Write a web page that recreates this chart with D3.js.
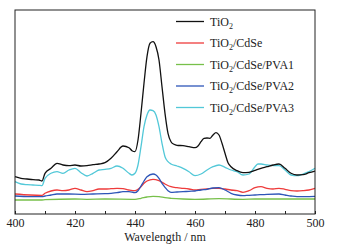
<!DOCTYPE html>
<html>
<head>
<meta charset="utf-8">
<script src="https://cdn.jsdelivr.net/npm/d3@7"></script>
<style>
  body { margin: 0; background: #fff; }
  svg text { font-family: "Liberation Serif", "Times New Roman", serif; }
</style>
</head>
<body>
<div id="wrapper"></div>
<script>
// wavelength (nm) / intensity (a.u.) pairs
const tio2 = [[400,37.3],[402,35.7],[404,35.0],[406,34.3],[408,34.0],[409,33.0],[410,40.7],[412,45.7],[414,50.7],[416,49.0],[418,48.3],[420,49.0],[422,48.0],[424,48.3],[426,49.3],[428,50.0],[430,51.3],[432,55.7],[434,62.3],[436,68.0],[438,66.3],[439,63.3],[440,62.3],[441,74.0],[442,100.7],[443,130.7],[444,157.3],[445,170.7],[446,172.3],[447,167.3],[448,154.0],[449,127.3],[450,100.7],[451,80.7],[452,72.3],[453,69.7],[454,68.7],[456,68.3],[458,67.3],[460,66.3],[461,68.0],[462,72.3],[463,75.7],[464,76.0],[465,75.7],[466,79.0],[467,81.3],[468,79.0],[469,70.7],[470,60.7],[471,51.3],[472,47.3],[474,43.3],[476,41.3],[478,41.7],[480,43.7],[482,45.7],[484,47.3],[486,49.0],[488,50.0],[490,45.7],[492,40.7],[494,39.0],[496,39.3],[498,41.3],[500,43.0]];
const tio2CdSe = [[400,20.0],[405,19.0],[409,18.7],[410,20.7],[412,23.0],[414,24.0],[416,23.3],[418,24.0],[420,25.7],[422,24.0],[424,22.3],[426,23.3],[428,25.0],[430,25.0],[432,25.3],[434,25.7],[436,25.3],[438,24.0],[440,23.3],[441,24.7],[442,27.3],[443,30.7],[444,33.0],[446,34.7],[448,33.3],[450,30.0],[452,27.3],[454,26.3],[456,25.7],[458,25.0],[460,24.0],[462,24.7],[464,25.0],[466,25.7],[468,25.7],[470,25.0],[472,24.0],[474,23.3],[476,21.7],[478,23.3],[480,26.3],[482,27.3],[484,25.7],[486,25.0],[488,25.7],[490,24.7],[492,23.3],[494,23.0],[496,23.3],[498,24.0],[500,25.7]];
const pva1 = [[400,14.0],[409,14.0],[410,14.3],[420,15.0],[424,14.7],[430,15.0],[440,14.7],[442,15.7],[444,17.0],[446,17.7],[448,17.3],[450,16.3],[452,15.7],[456,15.0],[460,14.7],[468,15.3],[476,14.7],[480,15.0],[490,15.0],[500,15.0]];
const pva2 = [[400,18.0],[405,17.3],[409,17.3],[410,18.0],[412,19.0],[414,20.0],[418,20.0],[422,19.7],[426,20.0],[430,20.3],[432,20.7],[434,21.3],[436,22.3],[438,22.3],[440,21.3],[441,23.3],[442,28.0],[443,33.0],[444,37.3],[446,40.0],[447,39.0],[448,35.7],[449,30.7],[450,26.7],[451,23.3],[452,21.7],[454,22.0],[456,22.3],[458,22.7],[460,23.0],[462,24.0],[464,24.7],[466,26.0],[468,26.3],[470,24.0],[472,20.7],[474,19.0],[476,18.3],[478,18.7],[480,19.0],[484,19.7],[488,20.0],[490,19.0],[492,18.0],[494,17.3],[500,17.7]];
const pva3 = [[400,32.3],[402,30.0],[404,29.3],[406,29.0],[408,28.7],[409,28.3],[410,35.7],[412,40.7],[414,42.3],[416,40.7],[418,44.0],[420,45.7],[422,41.3],[424,38.0],[426,40.7],[428,44.0],[430,44.7],[432,45.7],[434,48.0],[436,45.7],[438,40.7],[439,39.0],[440,40.7],[441,49.0],[442,67.3],[443,87.3],[444,99.0],[445,104.0],[446,103.3],[447,99.0],[448,87.3],[449,70.7],[450,57.3],[451,52.3],[452,50.0],[454,48.0],[456,45.7],[458,42.3],[460,38.3],[462,40.0],[464,44.0],[466,47.3],[468,49.0],[470,46.7],[472,44.0],[474,42.3],[476,39.0],[478,40.0],[480,47.3],[481,50.0],[482,50.0],[484,49.0],[486,48.3],[488,48.3],[490,44.0],[492,39.0],[494,38.3],[496,40.0],[498,42.3],[500,45.7]];

const seriesNames = ["TiO2", "TiO2/CdSe", "TiO2/CdSe/PVA1", "TiO2/CdSe/PVA2", "TiO2/CdSe/PVA3"];
const seriesData = [tio2, tio2CdSe, pva1, pva2, pva3];
const seriesColors = ["#111111", "#ee3b3b", "#77c04a", "#2d55b8", "#52c8d8"];

const majorTicks = [400, 420, 440, 460, 480, 500];
const minorTicks = [410, 430, 450, 470, 490];

const width = 342;
const height = 246;
const margin = { top: 10, right: 27, bottom: 32, left: 15 };
const serif = "'Liberation Serif', 'Times New Roman', serif";

const svg = d3.select("#wrapper").append("svg")
  .attr("width", width)
  .attr("height", height)
  .attr("font-family", serif);

const x = d3.scaleLinear()
  .domain([400, 500])
  .range([margin.left, width - margin.right]);
const y = d3.scaleLinear()
  .domain([0, 204])
  .range([height - margin.bottom, margin.top]);

const line = d3.line()
  .x(d => x(d[0]))
  .y(d => y(d[1]))
  .curve(d3.curveMonotoneX);

// drawing order: bottom lines first so black sits on top
const order = [2, 1, 3, 4, 0];
svg.append("g")
  .selectAll("path")
  .data(order)
  .join("path")
    .attr("fill", "none")
    .attr("stroke", i => seriesColors[i])
    .attr("stroke-width", 1.3)
    .attr("stroke-linejoin", "round")
    .attr("d", i => line(seriesData[i]));

// frame
svg.append("rect")
  .attr("x", x(400))
  .attr("y", y(204))
  .attr("width", x(500) - x(400))
  .attr("height", y(0) - y(204))
  .attr("fill", "none")
  .attr("stroke", "#222")
  .attr("stroke-width", 1);

const xAxis = svg.append("g")
  .attr("transform", `translate(0, ${y(0)})`)
  .call(d3.axisBottom(x)
    .tickValues(majorTicks)
    .tickSize(-3)
    .tickPadding(4)
    .tickFormat(d3.format("d")))
  .attr("font-family", serif)
  .attr("font-size", 12);
xAxis.select(".domain").remove();
xAxis.selectAll("line").attr("stroke", "#222");
xAxis.selectAll("text").attr("fill", "#222");

const xMinor = svg.append("g")
  .attr("transform", `translate(0, ${y(0)})`)
  .call(d3.axisBottom(x).tickValues(minorTicks).tickSize(-3).tickFormat(""));
xMinor.select(".domain").remove();
xMinor.selectAll("line").attr("stroke", "#222");

svg.append("text")
  .attr("x", (x(400) + x(500)) / 2)
  .attr("y", 241)
  .attr("text-anchor", "middle")
  .attr("fill", "#222")
  .attr("font-size", 12)
  .text("Wavelength / nm");

// legend
const legend = svg.append("g")
  .attr("transform", "translate(176, 21.5)");
const rows = legend.selectAll("g")
  .data(seriesNames)
  .join("g")
    .attr("transform", (d, i) => `translate(0, ${i * 21.5})`);
rows.append("line")
  .attr("x1", 0)
  .attr("x2", 28)
  .attr("stroke", (d, i) => seriesColors[i])
  .attr("stroke-width", 1.3);
const labels = rows.append("text")
  .attr("x", 34)
  .attr("dy", "0.35em")
  .attr("font-size", 12)
  .attr("fill", "#222");
labels.each(function(d) {
  const t = d3.select(this);
  const rest = d.slice(4);
  t.append("tspan").text("TiO");
  t.append("tspan").attr("dy", 3).attr("font-size", 8).text("2");
  t.append("tspan").attr("dy", -3).text(rest);
});
</script>
</body>
</html>
